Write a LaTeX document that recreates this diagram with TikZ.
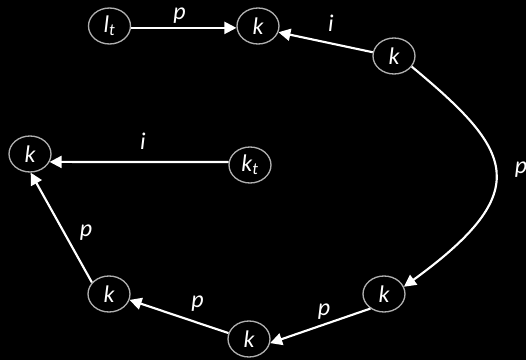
\documentclass[tikz,border=0pt]{standalone}
\usepackage{fontspec}
\setmainfont{Carlito}
\usetikzlibrary{shapes.geometric,arrows.meta}
\definecolor{ringgray}{RGB}{175,175,175}
\begin{document}
\begin{tikzpicture}[x=0.75pt,y=-0.75pt,
  st/.style={ellipse,draw=ringgray,line width=1pt,minimum width=31.5pt,minimum height=27pt,inner sep=0pt,text=white,font=\fontsize{18}{21}\selectfont\itshape},
  lbl/.style={text=white,font=\fontsize{18}{21}\selectfont\itshape,inner sep=0pt},
  arr/.style={draw=white,line width=1.6pt,-{Triangle[length=9pt,width=9pt]}}]
\fill[black] (0,0) rectangle (526,360);
\useasboundingbox (0,0) rectangle (526,360);
\node[st] (lt) at (109.5,26) {l\textsubscript{t}};
\node[st] (k1) at (258,26) {k};
\node[st] (k2) at (394,56) {k};
\node[st] (kt) at (250,165) {k\textsubscript{t}};
\node[st] (k3) at (30,154) {k};
\node[st] (k4) at (109,294) {k};
\node[st] (k5) at (249,339) {k};
\node[st] (k6) at (384,294) {k};
\draw[arr] (lt.-5) -- (k1.185);
\draw[arr] (k2.170) -- (k1.-17);
\draw[arr] (kt.172) -- (k3.-22);
\draw[arr] (k2.-31) .. controls (512,150) and (537,190) .. (k6.20);
\draw[arr] (k6.227) -- (k5.-11);
\draw[arr] (k5.164) -- (k4.-16);
\draw[arr] (k4.146) -- (k3.-88);
\node[lbl] (l1) at (179.5,16) {p};
\node[lbl] (l2) at (331,23.5) {i};
\node[lbl] (l3) at (143,141.5) {i};
\node[lbl] (l4) at (521,170) {p};
\node[lbl] (l5) at (324,311.5) {p};
\node[lbl] (l6) at (197.5,303.5) {p};
\node[lbl] (l7) at (86,233) {p};
\end{tikzpicture}
\end{document}
